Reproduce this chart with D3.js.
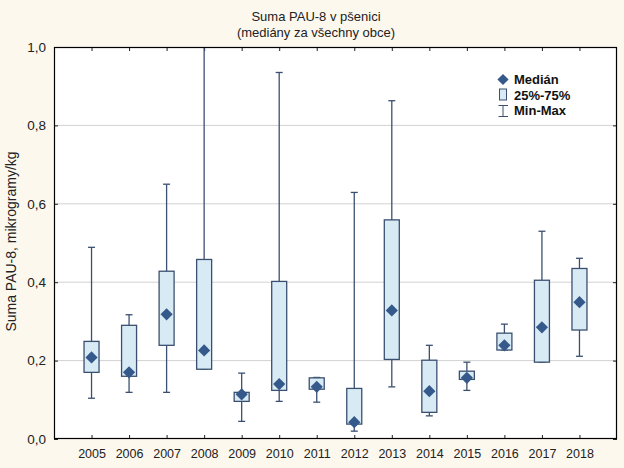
<!DOCTYPE html>
<html><head><meta charset="utf-8">
<script src="https://cdn.jsdelivr.net/npm/d3@7"></script>
<style>body{margin:0;background:#fdf8ee;} svg{display:block;}</style>
</head><body>
<svg id="c" width="624" height="468"></svg>
<script>
const years = ["2005","2006","2007","2008","2009","2010","2011","2012","2013","2014","2015","2016","2017","2018"];
const mins    = [0.104,0.119,0.119,0.178,0.045,0.096,0.094,0.020,0.133,0.059,0.124,0.227,0.196,0.211];
const q1s     = [0.170,0.160,0.239,0.178,0.096,0.124,0.127,0.038,0.203,0.068,0.152,0.227,0.196,0.278];
const medians = [0.208,0.170,0.318,0.226,0.114,0.140,0.133,0.043,0.328,0.122,0.156,0.239,0.285,0.349];
const q3s     = [0.249,0.290,0.428,0.458,0.119,0.402,0.156,0.129,0.559,0.201,0.173,0.270,0.405,0.435];
const maxs    = [0.489,0.317,0.650,1.050,0.168,0.935,0.157,0.629,0.863,0.239,0.196,0.293,0.530,0.461];
const yTicks  = [0,0.2,0.4,0.6,0.8,1.0];
const titleLines = ["Suma PAU-8 v pšenici","(mediány za všechny obce)"];
const yLabel = "Suma PAU-8, mikrogramy/kg";
const legendItems = ["Medián","25%-75%","Min-Max"];

const svg = d3.select("#c");
const L=54, T=47, R=617, B=439;
const x = d3.scalePoint().domain(years).range([L,R]).padding(1);
const y = d3.scaleLinear().domain([0,1]).range([B,T]);
const font = "Arial, 'Liberation Sans', sans-serif";
const dark = "#3b5070", fill="#d8eaf4", medCol="#35598a";

svg.append("rect").attr("x",L).attr("y",T).attr("width",R-L).attr("height",B-T).attr("fill","#fff");
svg.append("defs").append("clipPath").attr("id","clip").append("rect").attr("x",L).attr("y",T).attr("width",R-L).attr("height",B-T);

// grid
svg.append("g").selectAll("line").data(yTicks.filter(d=>d>0&&d<1)).join("line")
  .attr("x1",L).attr("x2",R).attr("y1",d=>y(d)).attr("y2",d=>y(d)).attr("stroke","#d2d2d2").attr("stroke-width",1);

// axes
const yAx = svg.append("g").attr("transform",`translate(${L},0)`)
  .call(d3.axisLeft(y).tickValues(yTicks).tickFormat(d=>d3.format(".1f")(d).replace(".",",")).tickSize(-4).tickPadding(8));
const yAxR = svg.append("g").attr("transform",`translate(${R},0)`)
  .call(d3.axisRight(y).tickValues(yTicks).tickFormat("").tickSize(-4));
const xAx = svg.append("g").attr("transform",`translate(0,${B})`)
  .call(d3.axisBottom(x).tickSize(-4).tickPadding(10));
const xAxT = svg.append("g").attr("transform",`translate(0,${T})`)
  .call(d3.axisTop(x).tickSize(-4).tickFormat(""));
[yAx,yAxR,xAx,xAxT].forEach(g=>{
  g.select(".domain").remove();
  g.selectAll(".tick line").attr("stroke","#222");
  g.selectAll("text").attr("font-family",font).attr("font-size",12.5).attr("fill","#222");
});
yAx.selectAll("text").attr("font-size",13.5);

const plot = svg.append("g").attr("clip-path","url(#clip)");
const bw = 15, cw = 7;
const idx = d3.range(years.length);
// whiskers
plot.selectAll(".wh").data(idx).join("line")
  .attr("x1",i=>x(years[i])).attr("x2",i=>x(years[i]))
  .attr("y1",i=>y(mins[i])).attr("y2",i=>y(maxs[i]))
  .attr("stroke",dark).attr("stroke-width",1.3);
plot.selectAll(".capmax").data(idx).join("line")
  .attr("x1",i=>x(years[i])-cw/2).attr("x2",i=>x(years[i])+cw/2)
  .attr("y1",i=>y(maxs[i])).attr("y2",i=>y(maxs[i]))
  .attr("stroke",dark).attr("stroke-width",1.3);
plot.selectAll(".capmin").data(idx).join("line")
  .attr("x1",i=>x(years[i])-cw/2).attr("x2",i=>x(years[i])+cw/2)
  .attr("y1",i=>y(mins[i])).attr("y2",i=>y(mins[i]))
  .attr("stroke",dark).attr("stroke-width",1.3);
// boxes
plot.selectAll(".box").data(idx).join("rect")
  .attr("x",i=>x(years[i])-bw/2).attr("width",bw)
  .attr("y",i=>y(q3s[i])).attr("height",i=>y(q1s[i])-y(q3s[i]))
  .attr("fill",fill).attr("stroke",dark).attr("stroke-width",1.3);
// medians
const diamond = d3.symbol().type(d3.symbolDiamond2).size(95);
plot.selectAll(".med").data(idx).join("path")
  .attr("d",diamond)
  .attr("transform",i=>`translate(${x(years[i])},${y(medians[i])})`)
  .attr("fill",medCol);

// frame
svg.append("rect").attr("x",L+0.5).attr("y",T+0.5).attr("width",R-L-1).attr("height",B-T-1)
  .attr("fill","none").attr("stroke","#000").attr("stroke-width",1.2);

// title
svg.append("g").selectAll("text").data(titleLines).join("text")
  .attr("x",316).attr("y",(d,i)=>21+i*15.5).attr("text-anchor","middle")
  .attr("font-family",font).attr("font-size",13).attr("fill","#222").text(d=>d);

// y label
svg.append("text").attr("transform",`translate(11.5,241.5) rotate(-90)`)
  .attr("text-anchor","middle").attr("dy","0.35em").attr("font-family",font).attr("font-size",14).attr("fill","#222").text(yLabel);

// legend
const lg = svg.append("g");
const ly = [79.5,95,110.5];
lg.append("path").attr("d",d3.symbol().type(d3.symbolDiamond2).size(80)).attr("transform",`translate(503,${ly[0]})`).attr("fill",medCol);
lg.append("rect").attr("x",499.5).attr("y",ly[1]-6).attr("width",7).attr("height",11).attr("fill",fill).attr("stroke",dark).attr("stroke-width",1);
lg.append("line").attr("x1",503).attr("x2",503).attr("y1",ly[2]-5).attr("y2",ly[2]+6).attr("stroke",dark);
lg.append("line").attr("x1",498.5).attr("x2",508).attr("y1",ly[2]-5).attr("y2",ly[2]-5).attr("stroke",dark);
lg.append("line").attr("x1",498.5).attr("x2",508).attr("y1",ly[2]+6).attr("y2",ly[2]+6).attr("stroke",dark);
lg.selectAll("text").data(legendItems).join("text")
  .attr("x",514).attr("y",(d,i)=>ly[i]).attr("dy","0.36em")
  .attr("font-family",font).attr("font-size",13).attr("font-weight","bold").attr("fill","#111").text(d=>d);
</script>
</body></html>
